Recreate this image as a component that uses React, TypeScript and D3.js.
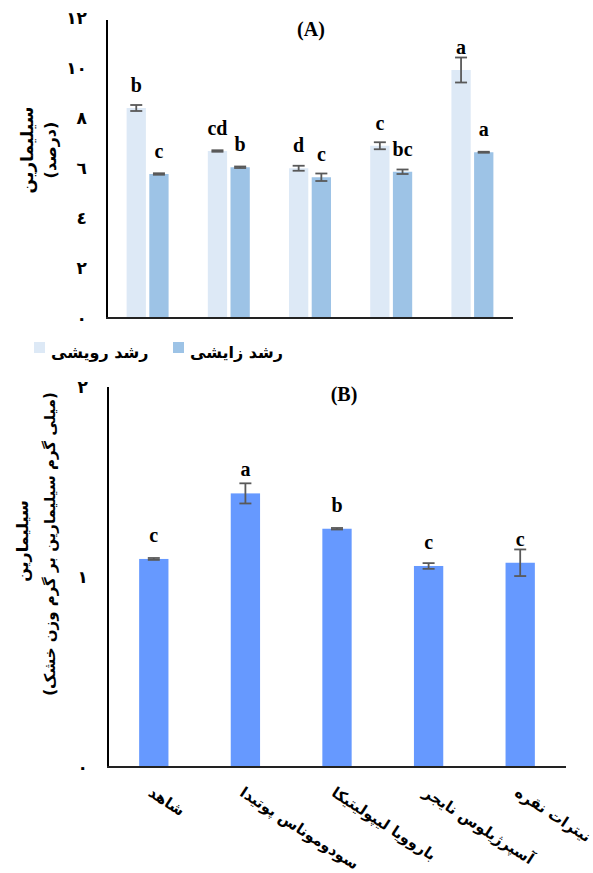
import React, { useEffect, useRef } from 'react';
import * as d3 from 'd3';

// chart A: silymarin percent in two growth stages
const groupsA = ['1', '2', '3', '4', '5'];
const stagesA = ['vegetative', 'reproductive'];
const stageNames = ['رشد رویشی', 'رشد زایشی'];
const vegetative = [8.4, 6.68, 5.99, 6.89, 9.92];
const vegetativeErr = [0.12, 0.03, 0.1, 0.14, 0.5];
const vegetativeLetters = ['b', 'cd', 'd', 'c', 'a'];
const reproductive = [5.76, 6.03, 5.63, 5.85, 6.63];
const reproductiveErr = [0.03, 0.03, 0.15, 0.09, 0.02];
const reproductiveLetters = ['c', 'b', 'c', 'bc', 'a'];
const ticksA = [0, 2, 4, 6, 8, 10, 12];
const tickLabelsA = ['٠', '٢', '٤', '٦', '٨', '١٠', '١٢'];

// chart B: silymarin per gram dry weight by elicitor
const treatments = ['شاهد', 'سودوموناس پوتیدا', 'باروویا لیپولیتیکا', 'آسپرژیلوس نایجر', 'نیترات نقره'];
const silymarinB = [1.095, 1.44, 1.254, 1.058, 1.075];
const silymarinBErr = [0.005, 0.053, 0.004, 0.015, 0.07];
const lettersB = ['c', 'a', 'b', 'c', 'c'];
const ticksB = [0, 1, 2];
const tickLabelsB = ['٠', '١', '٢'];

const colorsA = ['#dde9f6', '#9dc3e6'];
const colorB = '#6699ff';
const errColor = '#595959';
const faFont = '"DejaVu Sans", sans-serif';
const latinFont = '"Liberation Serif", "Times New Roman", serif';

export default function App() {
  const ref = useRef<SVGSVGElement | null>(null);

  useEffect(() => {
    const svg = d3.select(ref.current);
    svg.selectAll('*').remove();

    // ---------- chart A ----------
    const xA = d3.scaleBand().domain(groupsA).range([107, 513]).paddingInner(0.483).paddingOuter(0.2415);
    const x1 = d3.scaleBand().domain(stagesA).range([0, xA.bandwidth()]).paddingInner(0.15);
    const yA = d3.scaleLinear().domain([0, 12]).range([318, 18]);

    const gA = svg.append('g');

    const rowsA = groupsA.map((g, i) => [
      { g, s: 'vegetative', v: vegetative[i], e: vegetativeErr[i], l: vegetativeLetters[i], c: colorsA[0] },
      { g, s: 'reproductive', v: reproductive[i], e: reproductiveErr[i], l: reproductiveLetters[i], c: colorsA[1] },
    ]).flat();

    gA.selectAll('rect.bar')
      .data(rowsA)
      .enter().append('rect')
      .attr('x', (d) => xA(d.g)! + x1(d.s)!)
      .attr('y', (d) => yA(d.v))
      .attr('width', x1.bandwidth())
      .attr('height', (d) => yA(0) - yA(d.v))
      .attr('fill', (d) => d.c);

    const errA = gA.selectAll('g.err').data(rowsA).enter().append('g')
      .attr('stroke', errColor).attr('stroke-width', 1.8);
    errA.append('line')
      .attr('x1', (d) => xA(d.g)! + x1(d.s)! + x1.bandwidth() / 2)
      .attr('x2', (d) => xA(d.g)! + x1(d.s)! + x1.bandwidth() / 2)
      .attr('y1', (d) => yA(d.v + d.e)).attr('y2', (d) => yA(d.v - d.e));
    [1, -1].forEach((sgn) => {
      errA.append('line')
        .attr('x1', (d) => xA(d.g)! + x1(d.s)! + x1.bandwidth() / 2 - 6)
        .attr('x2', (d) => xA(d.g)! + x1(d.s)! + x1.bandwidth() / 2 + 6)
        .attr('y1', (d) => yA(d.v + sgn * d.e)).attr('y2', (d) => yA(d.v + sgn * d.e));
    });

    gA.selectAll('text.letter').data(rowsA).enter().append('text')
      .attr('x', (d) => xA(d.g)! + x1(d.s)! + x1.bandwidth() / 2)
      .attr('y', (d) => yA(d.v) - 16)
      .attr('text-anchor', 'middle')
      .style('font-family', latinFont).style('font-weight', 'bold').style('font-size', '20px')
      .text((d) => d.l);

    // axes
    gA.append('line').attr('x1', 107).attr('x2', 107).attr('y1', 20).attr('y2', yA(0))
      .attr('stroke', '#000').attr('stroke-width', 2);
    gA.append('line').attr('x1', 106).attr('x2', 513).attr('y1', yA(0)).attr('y2', yA(0))
      .attr('stroke', '#222').attr('stroke-width', 2);

    gA.selectAll('text.tick').data(ticksA).enter().append('text')
      .attr('x', 87).attr('y', (d) => yA(d))
      .attr('text-anchor', 'end').attr('dominant-baseline', 'central')
      .style('font-family', faFont).style('font-weight', 'bold').style('font-size', '17px')
      .text((d, i) => tickLabelsA[i]);

    gA.append('text').attr('transform', 'translate(27,150) rotate(-90)')
      .attr('text-anchor', 'middle').attr('dominant-baseline', 'central')
      .style('font-family', faFont).style('font-weight', 'bold').style('font-size', '17px')
      .text('سیلیمارین');
    gA.append('text').attr('transform', 'translate(50,150) rotate(-90)')
      .attr('text-anchor', 'middle').attr('dominant-baseline', 'central')
      .style('font-family', faFont).style('font-weight', 'bold').style('font-size', '16px')
      .text('(درصد)');

    gA.append('text').attr('x', 311).attr('y', 36).attr('text-anchor', 'middle')
      .style('font-family', latinFont).style('font-weight', 'bold').style('font-size', '20px')
      .text('(A)');

    // legend
    const legendX = [34, 173];
    stageNames.forEach((name, i) => {
      gA.append('rect').attr('x', legendX[i]).attr('y', 342).attr('width', 11).attr('height', 11)
        .attr('fill', colorsA[i]);
      gA.append('text').attr('x', legendX[i] + 17).attr('y', 358)
        .style('font-family', faFont).style('font-weight', 'bold').style('font-size', '16px')
        .text(name);
    });

    // ---------- chart B ----------
    const xB = d3.scaleBand().domain(treatments).range([108, 566]).paddingInner(0.68).paddingOuter(0.34);
    const yB = d3.scaleLinear().domain([0, 2]).range([767, 387]);
    const gB = svg.append('g');

    const rowsB = treatments.map((t, i) => ({ t, v: silymarinB[i], e: silymarinBErr[i], l: lettersB[i] }));
    const cx = (t: string) => xB(t)! + xB.bandwidth() / 2;

    gB.selectAll('rect').data(rowsB).enter().append('rect')
      .attr('x', (d) => xB(d.t)!)
      .attr('y', (d) => yB(d.v))
      .attr('width', xB.bandwidth())
      .attr('height', (d) => yB(0) - yB(d.v))
      .attr('fill', colorB);

    const errB = gB.selectAll('g.err').data(rowsB).enter().append('g')
      .attr('stroke', errColor).attr('stroke-width', 1.8);
    errB.append('line')
      .attr('x1', (d) => cx(d.t)).attr('x2', (d) => cx(d.t))
      .attr('y1', (d) => yB(d.v + d.e)).attr('y2', (d) => yB(d.v - d.e));
    [1, -1].forEach((sgn) => {
      errB.append('line')
        .attr('x1', (d) => cx(d.t) - 6).attr('x2', (d) => cx(d.t) + 6)
        .attr('y1', (d) => yB(d.v + sgn * d.e)).attr('y2', (d) => yB(d.v + sgn * d.e));
    });

    gB.selectAll('text.letter').data(rowsB).enter().append('text')
      .attr('x', (d) => cx(d.t)).attr('y', (d) => yB(d.v) - 17)
      .attr('text-anchor', 'middle')
      .style('font-family', latinFont).style('font-weight', 'bold').style('font-size', '20px')
      .text((d) => d.l);

    gB.append('line').attr('x1', 108).attr('x2', 108).attr('y1', 387).attr('y2', yB(0))
      .attr('stroke', '#000').attr('stroke-width', 2);
    gB.append('line').attr('x1', 107).attr('x2', 566).attr('y1', yB(0)).attr('y2', yB(0))
      .attr('stroke', '#222').attr('stroke-width', 2);

    gB.selectAll('text.tick').data(ticksB).enter().append('text')
      .attr('x', 88).attr('y', (d) => yB(d))
      .attr('text-anchor', 'end').attr('dominant-baseline', 'central')
      .style('font-family', faFont).style('font-weight', 'bold').style('font-size', '17px')
      .text((d, i) => tickLabelsB[i]);

    gB.selectAll('text.cat').data(treatments).enter().append('text')
      .attr('transform', (d) => `translate(${cx(d)},785) rotate(33)`)
      .attr('text-anchor', 'start').attr('dy', '0.8em')
      .style('font-family', faFont).style('font-weight', 'bold').style('font-size', '15px')
      .text((d) => d);

    gB.append('text').attr('transform', 'translate(22,541) rotate(-90)')
      .attr('text-anchor', 'middle').attr('dominant-baseline', 'central')
      .style('font-family', faFont).style('font-weight', 'bold').style('font-size', '16px')
      .text('سیلیمارین');
    gB.append('text').attr('transform', 'translate(50,544) rotate(-90)')
      .attr('text-anchor', 'middle').attr('dominant-baseline', 'central')
      .style('font-family', faFont).style('font-weight', 'bold').style('font-size', '15px')
      .text('(میلی گرم سیلیمارین بر گرم وزن خشک)');

    gB.append('text').attr('x', 344).attr('y', 401).attr('text-anchor', 'middle')
      .style('font-family', latinFont).style('font-weight', 'bold').style('font-size', '20px')
      .text('(B)');
  }, []);

  return (
    <svg
      ref={ref}
      width={593}
      height={873}
      style={{ position: 'absolute', left: 0, top: 0, display: 'block', background: '#fff' }}
    />
  );
}
